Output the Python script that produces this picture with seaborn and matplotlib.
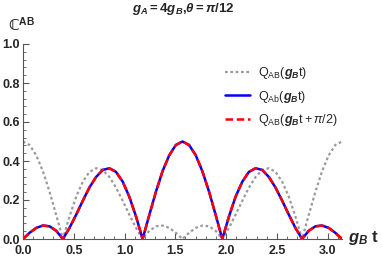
import matplotlib
matplotlib.use('Agg')
import matplotlib.pyplot as plt
import matplotlib.transforms as mtransforms
import seaborn as sns
from matplotlib.ticker import MultipleLocator

# g_B t samples
t = [0.000, 0.065, 0.131, 0.196, 0.262, 0.327, 0.393, 0.458, 0.524, 0.589,
     0.654, 0.720, 0.785, 0.851, 0.916, 0.982, 1.047, 1.113, 1.178, 1.244,
     1.309, 1.374, 1.440, 1.505, 1.571, 1.636, 1.702, 1.767, 1.833, 1.898,
     1.963, 2.029, 2.094, 2.160, 2.225, 2.291, 2.356, 2.422, 2.487, 2.553,
     2.618, 2.683, 2.749, 2.814, 2.880, 2.945, 3.011, 3.076, 3.142]

# Q_AB(g_B t) - gray dotted
q_AB = [0.500, 0.482, 0.429, 0.347, 0.242, 0.123, 0.000, 0.116, 0.217, 0.294,
        0.344, 0.363, 0.354, 0.318, 0.264, 0.196, 0.125, 0.057, 0.000, 0.042,
        0.065, 0.069, 0.057, 0.032, 0.000, 0.032, 0.057, 0.069, 0.065, 0.042,
        0.000, 0.057, 0.125, 0.196, 0.264, 0.318, 0.354, 0.363, 0.344, 0.294,
        0.217, 0.116, 0.000, 0.123, 0.242, 0.347, 0.429, 0.482, 0.500]

# Q_Ab(g_B t) - blue solid
q_Ab = [0.000, 0.032, 0.057, 0.069, 0.065, 0.042, 0.000, 0.057, 0.125, 0.196,
        0.264, 0.318, 0.354, 0.363, 0.344, 0.294, 0.217, 0.116, 0.000, 0.123,
        0.242, 0.347, 0.429, 0.482, 0.500, 0.482, 0.429, 0.347, 0.242, 0.123,
        0.000, 0.116, 0.217, 0.294, 0.344, 0.363, 0.354, 0.318, 0.264, 0.196,
        0.125, 0.057, 0.000, 0.042, 0.065, 0.069, 0.057, 0.032, 0.000]

# Q_AB(g_B t + pi/2) - red dashed
q_AB_shift = [0.000, 0.032, 0.057, 0.069, 0.065, 0.042, 0.000, 0.057, 0.125, 0.196,
              0.264, 0.318, 0.354, 0.363, 0.344, 0.294, 0.217, 0.116, 0.000, 0.123,
              0.242, 0.347, 0.429, 0.482, 0.500, 0.482, 0.429, 0.347, 0.242, 0.123,
              0.000, 0.116, 0.217, 0.294, 0.344, 0.363, 0.354, 0.318, 0.264, 0.196,
              0.125, 0.057, 0.000, 0.042, 0.065, 0.069, 0.057, 0.032, 0.000]

sns.set_theme(style='ticks')
plt.rcParams['font.family'] = ['Liberation Sans', 'DejaVu Sans']
plt.rcParams.update({
    'mathtext.fontset': 'custom',
    'mathtext.rm': 'Liberation Sans',
    'mathtext.it': 'Liberation Sans:italic',
    'mathtext.bf': 'Liberation Sans:bold:italic',
    'mathtext.sf': 'Liberation Sans:bold',
})

W, H = 382, 258
fig = plt.figure(figsize=(W / 100, H / 100), dpi=100)
ax = fig.add_axes([23 / W, 1 - 239 / H, (342 - 23) / W, (239 - 44) / H])

sns.lineplot(x=t, y=q_AB, ax=ax, color='#999999', linestyle=(0, (1.2, 1.2)),
             linewidth=1.6, label=r'$\mathrm{Q_{AB}(}\mathbf{g_B}\mathrm{t)}$')
sns.lineplot(x=t, y=q_Ab, ax=ax, color='#0000ff', linewidth=1.8,
             label=r'$\mathrm{Q_{Ab}(}\mathbf{g_B}\mathrm{t)}$')
sns.lineplot(x=t, y=q_AB_shift, ax=ax, color='#ff0000', linestyle=(0, (3, 1.5)),
             linewidth=1.8, label=r'$\mathrm{Q_{AB}(}\mathbf{g_B}\mathrm{t+}\pi\mathrm{/2)}$')

ax.set_xlim(0, 3.142)
ax.set_ylim(0, 1.0)
ax.xaxis.set_major_locator(MultipleLocator(0.5))
ax.xaxis.set_minor_locator(MultipleLocator(0.1))
ax.yaxis.set_major_locator(MultipleLocator(0.2))
ax.yaxis.set_minor_locator(MultipleLocator(0.04))
ax.tick_params(which='major', direction='in', length=4, width=0.8, color='#555555',
               labelsize=9)
ax.tick_params(axis='x', which='major', pad=4)
ax.tick_params(axis='y', which='major', pad=2)
ax.tick_params(which='minor', direction='in', length=2, width=0.6, color='#555555')
fig.canvas.draw()
for lab in ax.get_xticklabels() + ax.get_yticklabels():
    lab.set_fontweight('bold')
# origin label on x sits a bit to the right, as in the reference
first = ax.get_xticklabels()[0]
first.set_transform(first.get_transform() +
                    mtransforms.ScaledTranslation(8 / 100, 0, fig.dpi_scale_trans))
for s in ['left', 'bottom']:
    ax.spines[s].set_color('#555555')
    ax.spines[s].set_linewidth(0.8)
sns.despine(ax=ax)
ax.set_xlabel('')
ax.set_ylabel('')

ax.legend(frameon=False, loc='upper left', bbox_to_anchor=(214 / W, 1 - 54 / H),
          bbox_transform=fig.transFigure, fontsize=9, handlelength=2.0,
          labelspacing=0.6, handletextpad=0.6)

fig.text(183 / W, 1 - 9 / H,
         r'$\mathbf{g_A}\mathsf{=4}\mathbf{g_B}\mathsf{,}\mathbf{\theta}\mathsf{=}\mathbf{\pi}\mathsf{/12}$',
         ha='center', va='center', fontsize=9.5)
fig.text(8 / W, 1 - 25 / H, 'ℂ$^{\\mathsf{AB}}$', ha='left', va='center',
         fontsize=10.5, fontweight='bold', family=['DejaVu Sans'])
fig.text(348 / W, 1 - 238 / H, r'$\mathbf{g_B}\ \mathsf{t}$', ha='left', va='center',
         fontsize=12)

fig.savefig('out.png', dpi=100)
